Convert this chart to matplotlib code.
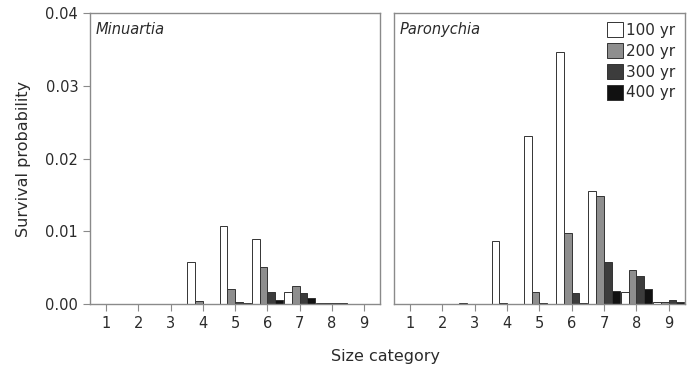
import matplotlib.pyplot as plt
import numpy as np
from matplotlib.patches import Patch

SPINE = "#8a8a8a"
TEXT = "#2b2b2b"

categories = [1, 2, 3, 4, 5, 6, 7, 8, 9]
series_labels = ["100 yr", "200 yr", "300 yr", "400 yr"]
series_colors = ["#ffffff", "#8e8e8e", "#3c3c3c", "#111111"]

minuartia_100 = [0, 0, 0, 0.0058, 0.0107, 0.0089, 0.0016, 0.0002, 0]
minuartia_200 = [0, 0, 0, 0.0004, 0.0020, 0.0051, 0.0025, 0.0002, 0]
minuartia_300 = [0, 0, 0, 0.0, 0.0003, 0.0017, 0.0015, 0.0002, 0]
minuartia_400 = [0, 0, 0, 0.0, 0.0001, 0.0005, 0.0008, 0.0001, 0]

paronychia_100 = [0, 0, 0.0001, 0.0086, 0.0231, 0.0347, 0.0155, 0.0017, 0.0003]
paronychia_200 = [0, 0, 0, 0.0002, 0.0017, 0.0097, 0.0148, 0.0047, 0.0003]
paronychia_300 = [0, 0, 0, 0.0, 0.0001, 0.0015, 0.0058, 0.0038, 0.0005]
paronychia_400 = [0, 0, 0, 0.0, 0.0, 0.0002, 0.0018, 0.0020, 0.0003]

plt.rcParams["font.family"] = "DejaVu Sans"

fig = plt.figure(figsize=(6.94, 3.71), dpi=100)
ax_left = fig.add_axes([0.1297, 0.1806, 0.418, 0.784])
ax_right = fig.add_axes([0.5677, 0.1806, 0.419, 0.784])

width = 0.24
offsets = (np.arange(4) - 1.5) * width
x = np.array(categories)

panels = [
    (ax_left, "Minuartia", [minuartia_100, minuartia_200, minuartia_300, minuartia_400]),
    (ax_right, "Paronychia", [paronychia_100, paronychia_200, paronychia_300, paronychia_400]),
]

for axis, name, series in panels:
    for values, off, color in zip(series, offsets, series_colors):
        axis.bar(x + off, values, width=width, color=color,
                 edgecolor="#333333", linewidth=0.7)
    axis.set_xlim(0.5, 9.5)
    axis.set_ylim(0, 0.04)
    axis.set_xticks(categories)
    axis.tick_params(colors=SPINE, labelcolor=TEXT, labelsize=10.5,
                     length=5, width=0.8)
    for side in axis.spines.values():
        side.set_color(SPINE)
        side.set_linewidth(1.0)
    axis.text(0.02, 0.97, name, transform=axis.transAxes, style="italic",
              fontsize=10.5, color=TEXT, va="top", ha="left")

ax_left.set_yticks([0, 0.01, 0.02, 0.03, 0.04])
ax_left.set_yticklabels(["0.00", "0.01", "0.02", "0.03", "0.04"])
ax_left.set_ylabel("Survival probability", fontsize=11.5, color=TEXT, labelpad=10)
ax_right.set_yticks([])

handles = [Patch(facecolor=c, edgecolor="#333333", linewidth=0.7) for c in series_colors]
ax_right.legend(handles, series_labels, loc="upper right", frameon=False,
                fontsize=11, handlelength=1.0, handleheight=1.1,
                handletextpad=0.25, labelspacing=0.35,
                borderaxespad=0.2, labelcolor=TEXT)

fig.text(0.555, 0.02, "Size category", ha="center", va="bottom",
         fontsize=11.5, color=TEXT)

fig.savefig("out.png", dpi=100)
